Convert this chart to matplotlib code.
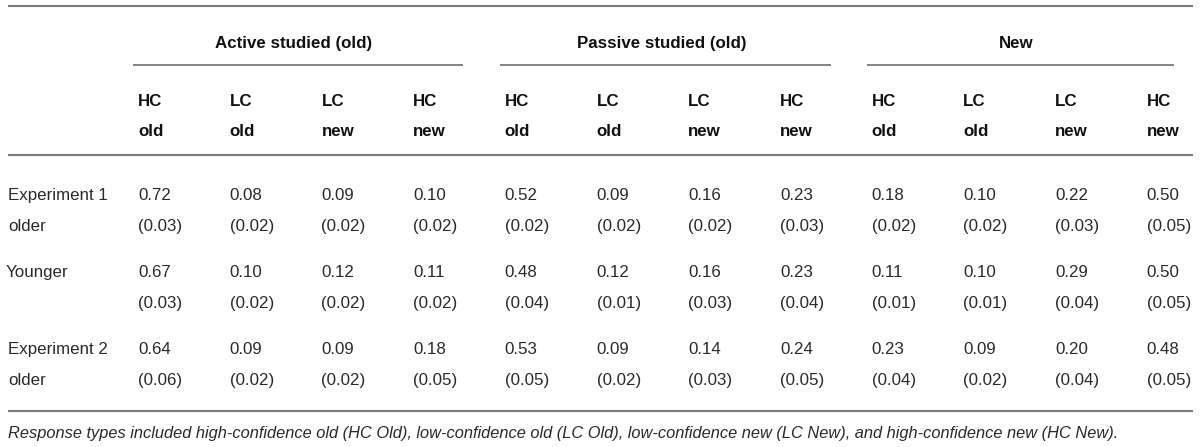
import matplotlib.pyplot as plt

plt.rcParams['font.family'] = ['Liberation Sans', 'DejaVu Sans']

groups = ["Active studied (old)", "Passive studied (old)", "New"]
sub_top = ["HC", "LC", "LC", "HC"]
sub_bottom = ["old", "old", "new", "new"]

row_labels = [("Experiment 1", "older"), ("Younger", ""), ("Experiment 2", "older")]

means = [
    ["0.72", "0.08", "0.09", "0.10", "0.52", "0.09", "0.16", "0.23", "0.18", "0.10", "0.22", "0.50"],
    ["0.67", "0.10", "0.12", "0.11", "0.48", "0.12", "0.16", "0.23", "0.11", "0.10", "0.29", "0.50"],
    ["0.64", "0.09", "0.09", "0.18", "0.53", "0.09", "0.14", "0.24", "0.23", "0.09", "0.20", "0.48"],
]
errors = [
    ["0.03", "0.02", "0.02", "0.02", "0.02", "0.02", "0.02", "0.03", "0.02", "0.02", "0.03", "0.05"],
    ["0.03", "0.02", "0.02", "0.02", "0.04", "0.01", "0.03", "0.04", "0.01", "0.01", "0.04", "0.05"],
    ["0.06", "0.02", "0.02", "0.05", "0.05", "0.02", "0.03", "0.05", "0.04", "0.02", "0.04", "0.05"],
]

footnote = ("Response types included high-confidence old (HC Old), low-confidence old (LC Old), "
            "low-confidence new (LC New), and high-confidence new (HC New).")

# layout in pixels
W, H = 1200, 447
col_x0, col_dx = 138, 91.7
row_y0, row_dy, pair_dy = 200, 77, 31
group_rule_ends = [463, 831, 1174]
fs = 12.2
line_col = "#7a7a7a"
txt_col = "#2a2a2a"

fig = plt.figure(figsize=(W / 100, H / 100), dpi=100)
ax = fig.add_axes([0, 0, 1, 1])
ax.set_xlim(0, W)
ax.set_ylim(H, 0)
ax.axis("off")

# horizontal rules
for y in (6, 155, 411):
    ax.plot([8, 1193], [y, y], color=line_col, lw=1.5, solid_capstyle="butt")

# group headers with underlines
for g, name in enumerate(groups):
    x_left = col_x0 + 4 * g * col_dx - 5
    x_right = group_rule_ends[g]
    ax.plot([x_left, x_right], [65, 65], color=line_col, lw=1.3, solid_capstyle="butt")
    ax.text((x_left + x_right) / 2 - 4, 48, name, ha="center", va="baseline",
            fontsize=fs, fontweight="bold", color="#111111")

# sub headers
for j in range(12):
    x = col_x0 + j * col_dx
    ax.text(x, 106, sub_top[j % 4], ha="left", va="baseline",
            fontsize=fs, fontweight="bold", color="#111111")
    ax.text(x, 136, sub_bottom[j % 4], ha="left", va="baseline",
            fontsize=fs, fontweight="bold", color="#111111")

# body rows
for i, (lab1, lab2) in enumerate(row_labels):
    y = row_y0 + i * row_dy
    ax.text(8 if lab1 != "Younger" else 6, y, lab1, ha="left", va="baseline",
            fontsize=fs, color=txt_col)
    if lab2:
        ax.text(8, y + pair_dy, lab2, ha="left", va="baseline", fontsize=fs, color=txt_col)
    for j in range(12):
        x = col_x0 + j * col_dx
        ax.text(x, y, means[i][j], ha="left", va="baseline", fontsize=fs, color=txt_col)
        ax.text(x, y + pair_dy, "(" + errors[i][j] + ")", ha="left", va="baseline",
                fontsize=fs, color=txt_col)

ax.text(8, 438, footnote, ha="left", va="baseline", fontsize=11.8, style="italic", color=txt_col)

fig.savefig("out.png", dpi=100)
